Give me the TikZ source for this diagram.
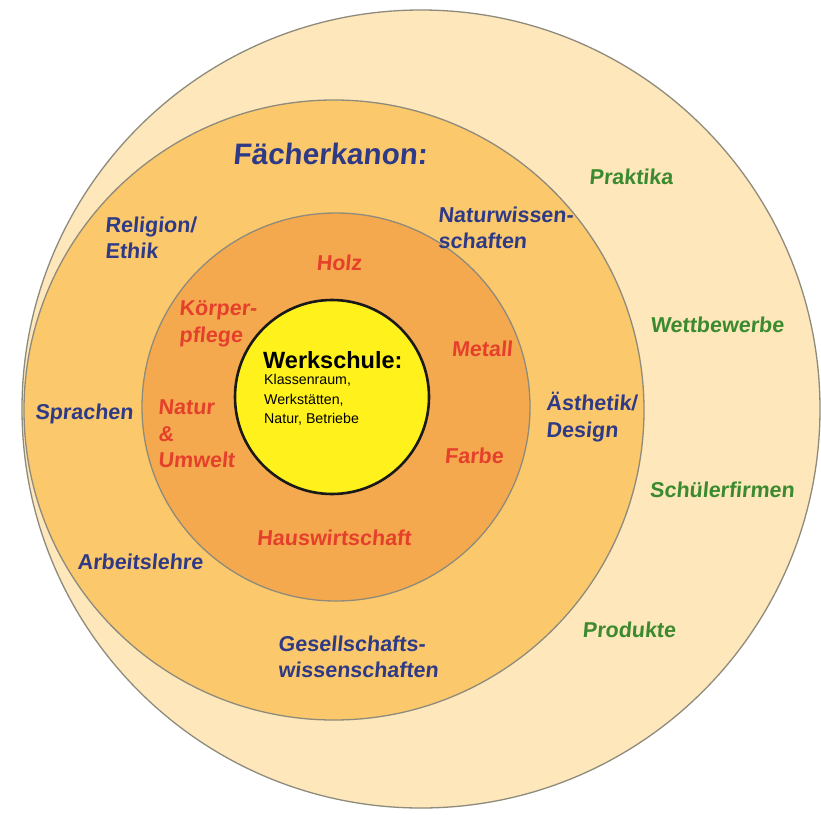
\documentclass[tikz,border=0pt]{standalone}
\usepackage{fontspec}
\setmainfont{Liberation Sans}
\newfontfamily\labfont{Liberation Sans}[BoldFeatures={FakeSlant=0.09}]
\definecolor{outerc}{HTML}{FDE7BB}
\definecolor{midc}{HTML}{FBC86B}
\definecolor{innerc}{HTML}{F5A94E}
\definecolor{corec}{HTML}{FFF11C}
\definecolor{ringline}{HTML}{8E8B7C}
\definecolor{labblue}{HTML}{2F3A86}
\definecolor{labred}{HTML}{E5402B}
\definecolor{labgreen}{HTML}{3B8A2F}
\begin{document}
\begin{tikzpicture}[x=1pt,y=-1pt,
  ring/.style={circle, draw=ringline, line width=1.3pt, inner sep=0pt},
  lab/.style={inner sep=0pt, align=left, font=\fontsize{21.5}{26.5}\selectfont\labfont\bfseries},
  bluelab/.style={lab, text=labblue},
  redlab/.style={lab, text=labred},
  greenlab/.style={lab, text=labgreen}]
\useasboundingbox (0,0) rectangle (821,814);
\fill[white] (0,0) rectangle (821,814);
% rings
\node[ring, fill=outerc, minimum size=798pt] (outer) at (421,409) {};
\node[ring, fill=midc, minimum size=620pt] (middle) at (334,410) {};
\node[ring, fill=innerc, minimum size=388pt] (inner) at (336,407) {};
\node[circle, draw=black!90, line width=2.6pt, fill=corec, inner sep=0pt, minimum size=194pt] (core) at (332,397) {};
% core text
\node[inner sep=0pt, anchor=west, font=\fontsize{23.5}{24}\selectfont\bfseries] (werk) at (263,360) {Werkschule:};
\node[inner sep=0pt, anchor=west, align=left, font=\fontsize{14.2}{19.5}\selectfont] (werksub) at (264,400) {Klassenraum,\\Werkstätten,\\Natur, Betriebe};
% title
\node[bluelab, font=\fontsize{29.6}{30}\selectfont\labfont\bfseries] (title) at (330,154) {Fächerkanon:};
% blue labels
\node[bluelab, anchor=west] (relig) at (105,238) {Religion/\\Ethik};
\node[bluelab, anchor=west] (natw) at (438,228) {Naturwissen-\\schaften};
\node[bluelab] (sprach) at (84,414) {Sprachen};
\node[bluelab, anchor=west] (aesth) at (546,417) {Ästhetik/\\Design};
\node[bluelab] (arbeit) at (140,562) {Arbeitslehre};
\node[bluelab, anchor=west] (gesell) at (278,657) {Gesellschafts-\\wissenschaften};
% red labels
\node[redlab] (holz) at (339,263) {Holz};
\node[redlab, anchor=west] (koerper) at (179,324) {Körper-\\pflege};
\node[redlab] (metall) at (482,349) {Metall};
\node[redlab, anchor=west] (natur) at (158,434) {Natur\\\&\\Umwelt};
\node[redlab] (farbe) at (474,456) {Farbe};
\node[redlab] (haus) at (334,538) {Hauswirtschaft};
% green labels
\node[greenlab] (prakt) at (631,177) {Praktika};
\node[greenlab] (wettb) at (717,325) {Wettbewerbe};
\node[greenlab] (schuel) at (722,490) {Schülerfirmen};
\node[greenlab] (prod) at (629,630) {Produkte};
\end{tikzpicture}
\end{document}
